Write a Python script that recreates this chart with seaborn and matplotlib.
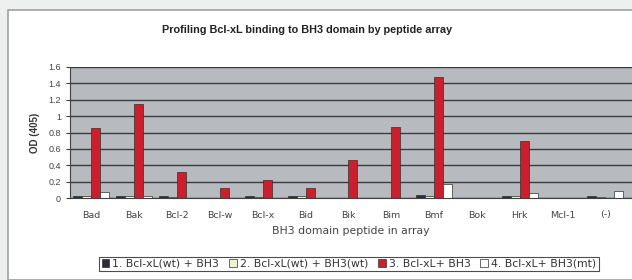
import matplotlib
matplotlib.use('Agg')
import pandas as pd
import numpy as np
import matplotlib.pyplot as plt
from matplotlib.patches import Rectangle
import seaborn as sns

# peptides in the array and the four binding conditions
peptides = ["Bad", "Bak", "Bcl-2", "Bcl-w", "Bcl-x", "Bid", "Bik", "Bim",
            "Bmf", "Bok", "Hrk", "Mcl-1", "(-)"]
series_names = ["1. Bcl-xL(wt) + BH3", "2. Bcl-xL(wt) + BH3(wt)",
                "3. Bcl-xL+ BH3", "4. Bcl-xL+ BH3(mt)"]
od_s1 = [0.03, 0.03, 0.02, 0.00, 0.02, 0.03, 0.00, 0.00, 0.04, 0.00, 0.03, 0.00, 0.03]
od_s2 = [0.02, 0.02, 0.01, 0.00, 0.01, 0.02, 0.00, 0.00, 0.03, 0.00, 0.02, 0.00, 0.01]
od_s3 = [0.85, 1.15, 0.32, 0.12, 0.22, 0.12, 0.46, 0.87, 1.48, 0.00, 0.70, 0.00, 0.00]
od_s4 = [0.07, 0.02, 0.00, 0.00, 0.00, 0.00, 0.00, 0.00, 0.17, 0.00, 0.06, 0.00, 0.09]
colors = ["#2b2b3a", "#eef3cf", "#cc1f2e", "#ffffff"]

df = pd.DataFrame({
    "peptide": peptides * 4,
    "od": od_s1 + od_s2 + od_s3 + od_s4,
    "series": np.repeat(series_names, len(peptides)),
})

sns.set_style("white")
plt.rcParams['font.family'] = ['Liberation Sans', 'DejaVu Sans']
wide = ['DejaVu Sans']  # the plain labels in the original are set quite wide

fig = plt.figure(figsize=(6.32, 2.8), dpi=100)
fig.patch.set_facecolor("#eef0ef")
# white chart area with grey border, Excel style
fig.patches.append(Rectangle((8 / 632, 0), 1, 1 - 10 / 280, transform=fig.transFigure,
                             facecolor="white", edgecolor="#a0a0a0", lw=1.2, zorder=-10))

ax = fig.add_axes([70 / 632, 1 - 198 / 280, 1 - 70 / 632, (198 - 67) / 280])
ax.set_facecolor("#b7bbc0")
sns.barplot(data=df, x="peptide", y="od", hue="series", palette=colors,
            saturation=1, width=0.84, edgecolor="#303030", linewidth=0.5, ax=ax,
            legend=True, errorbar=None)

ax.set_ylim(0, 1.6)
ax.set_yticks(np.arange(0, 1.61, 0.2))
ax.set_yticklabels(["0", "0.2", "0.4", "0.6", "0.8", "1", "1.2", "1.4", "1.6"])
ax.set_xlim(-0.5, 12.62)
ax.yaxis.grid(True, color="#3c3c3c", lw=1.0)
ax.set_axisbelow(True)
for s in ["top", "right"]:
    ax.spines[s].set_visible(False)
for s in ["left", "bottom"]:
    ax.spines[s].set_color("#404040")
    ax.spines[s].set_linewidth(0.8)

# category separators as outward ticks
ax.set_xticks(np.arange(-0.5, 13, 1), minor=True)
ax.tick_params(axis="x", which="major", length=0, labelsize=6.8, colors="#444444", pad=9)
ax.tick_params(axis="x", which="minor", length=3, width=0.8, color="#404040")
ax.tick_params(axis="y", length=3, width=0.8, color="#404040", labelsize=6.5,
               labelcolor="#444444", left=True)
for lbl in ax.get_xticklabels():
    lbl.set_family(wide)

ax.set_xlabel("BH3 domain peptide in array", fontsize=7.8, color="#444444",
              labelpad=5, family=wide)
ax.set_ylabel("OD (405)", fontsize=7, fontweight="bold", color="#333333", labelpad=6)
fig.text(307 / 632, 1 - 30 / 280,
         "Profiling Bcl-xL binding to BH3 domain by peptide array",
         ha="center", va="center", fontsize=7.8, fontweight="bold", color="#222222")

handles, labels = ax.get_legend_handles_labels()
ax.get_legend().remove()
leg = fig.legend(handles, labels, loc="center", bbox_to_anchor=(349 / 632, 1 - 264 / 280),
                 ncol=4, prop={"family": wide, "size": 7.8}, frameon=True, fancybox=False,
                 edgecolor="#202020", handlelength=0.7, handleheight=0.7,
                 handletextpad=0.3, columnspacing=0.9, borderpad=0.2, labelcolor="#333333")
leg.get_frame().set_linewidth(0.8)

fig.savefig("out.png", dpi=100, facecolor=fig.get_facecolor())
